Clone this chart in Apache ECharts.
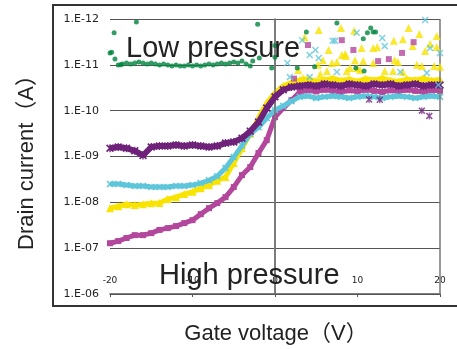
<!DOCTYPE html>
<html><head><meta charset="utf-8">
<script src="https://cdn.jsdelivr.net/npm/echarts@6/dist/echarts.min.js"></script>
<style>html,body{margin:0;padding:0;background:#fff}#c{width:457px;height:349px}</style>
</head><body><div id="c"></div>
<script>
const xTicks = [-20, -10, 0, 10, 20];
const xTickLabels = ['-20', '-10', '0', '10', '20'];
const yTickExp = [-12, -11, -10, -9, -8, -7, -6];
const yTickLabels = ['1.E-12', '1.E-11', '1.E-10', '1.E-09', '1.E-08', '1.E-07', '1.E-06'];

const gateVoltage = [-20,-19,-18,-17,-16,-15,-14,-13,-12,-11,-10,-9,-8,-7,-6,-5,-4,-3,-2,-1,0,1,2,3,4,5,6,7,8,9,10,11,12,13,14,15,16,17,18,19,20];

const purpleCurrent = [6.6e-10,6.2e-10,6.6e-10,7.5e-10,9.5e-10,6.2e-10,5.9e-10,5.9e-10,5.6e-10,5.9e-10,5.6e-10,5.9e-10,6.2e-10,5.9e-10,5.1e-10,4.8e-10,4.0e-10,2.8e-10,1.77e-10,8.8e-11,5.0e-11,3.5e-11,3.05e-11,2.9e-11,2.76e-11,2.9e-11,2.62e-11,2.76e-11,2.9e-11,2.62e-11,2.76e-11,2.9e-11,2.62e-11,2.76e-11,2.62e-11,2.9e-11,2.76e-11,2.62e-11,2.9e-11,2.76e-11,2.76e-11];

const cyanCurrent = [4.0e-9,4.0e-9,4.2e-9,4.4e-9,4.4e-9,4.6e-9,4.6e-9,4.6e-9,4.4e-9,4.4e-9,4.2e-9,3.8e-9,3.3e-9,2.7e-9,1.79e-9,1.03e-9,5.8e-10,3.2e-10,2.3e-10,1.45e-10,9.7e-11,7.9e-11,6.2e-11,5.0e-11,4.8e-11,5.3e-11,5.0e-11,4.8e-11,5.0e-11,5.3e-11,5.0e-11,4.8e-11,5.0e-11,5.3e-11,5.0e-11,4.8e-11,5.0e-11,5.3e-11,5.0e-11,4.8e-11,5.0e-11];

const yellowCurrent = [1.34e-8,1.21e-8,1.1e-8,1.15e-8,1.1e-8,1.05e-8,1.04e-8,8.5e-9,7.7e-9,6.6e-9,5.9e-9,4.9e-9,4.2e-9,3.4e-9,2.8e-9,1.39e-9,6.6e-10,3.2e-10,1.45e-10,6.8e-11,4.1e-11,2.9e-11,2.4e-11,2.15e-11,2.0e-11,2.3e-11,2.15e-11,1.95e-11,2.2e-11,2.05e-11,2.3e-11,2.0e-11,2.15e-11,1.95e-11,2.2e-11,2.3e-11,2.05e-11,2.15e-11,1.95e-11,2.2e-11,2.1e-11];

const magentaCurrent = [7.8e-8,7.0e-8,6.0e-8,5.2e-8,5.2e-8,4.7e-8,4.0e-8,3.65e-8,3.3e-8,2.84e-8,2.45e-8,1.81e-8,1.34e-8,1.04e-8,7.7e-9,4.65e-9,2.55e-9,1.7e-9,8.4e-10,4.4e-10,1.38e-10,8.8e-11,5.9e-11,3.9e-11,3.6e-11,3.8e-11,3.5e-11,3.7e-11,3.9e-11,3.6e-11,3.8e-11,3.5e-11,3.7e-11,3.9e-11,3.6e-11,3.8e-11,3.5e-11,3.7e-11,3.9e-11,3.6e-11,3.7e-11];

const greenVoltage = [-19,-18.5,-18,-17.5,-17,-16.5,-16,-15.5,-15,-14.5,-14,-13.5,-13,-12.5,-12,-11.5,-11,-10.5,-10,-9.5,-9,-8.5,-8,-7.5,-7,-6.5,-6,-5.5,-5,-4.5,-4,-3.5,-3];
const greenCurrent = [1.01e-11,9.6e-12,9.1e-12,9.6e-12,9.1e-12,8.7e-12,9.1e-12,9.6e-12,9.1e-12,9.6e-12,1.01e-11,9.6e-12,1.01e-11,1.06e-11,1.01e-11,1.06e-11,1.06e-11,1.01e-11,1.06e-11,1.01e-11,1.06e-11,1.01e-11,9.6e-12,1.01e-11,9.6e-12,9.1e-12,9.6e-12,9.1e-12,8.7e-12,9.1e-12,8.3e-12,9.6e-12,1.06e-11];

const greenScatter = [[-20,5.5e-12],[-19.8,5.3e-12],[-19.5,2.0e-12],[-19.4,7.5e-12],[-18.7,1.0e-11],[-16.8,1.16e-12],[-2.1,1.3e-12],[-2.7,8.3e-12],[-1.9,7.1e-12],[-0.4,1.17e-11],[0.0,3.8e-12],[0.0,6.8e-12],[3.8,1.92e-12],[7.5,1.22e-12],[11.6,1.57e-12],[11.9,1.92e-12],[12.2,1.92e-12],[11.2,2.0e-12],[10.7,2.7e-12],[2.7,1.17e-11],[4.8,1.1e-11],[9.8,1.17e-11],[10.8,1.37e-11]];

const yellowScatter = [[5.3,1.74e-12],[8.0,1.57e-12],[9.6,1.8e-12],[3.6,2.5e-12],[6.5,4.75e-12],[8.1,6.1e-12],[8.6,6.4e-12],[5.8,7.9e-12],[6.9,9.1e-12],[5.2,1.0e-11],[9.1,1.17e-11],[9.9,1.17e-11],[2.8,1.3e-11],[5.5,1.59e-11],[3.4,1.94e-11],[16.2,1.57e-12],[17.5,2.13e-12],[19.6,2.35e-12],[15.5,2.75e-12],[14.4,3.0e-12],[18.8,3.5e-12],[19.6,4.1e-12],[16.7,3.9e-12],[11.9,4.3e-12],[10.5,4.3e-12],[12.4,4.1e-12],[18.2,5.0e-12],[8.5,5.8e-12],[9.7,7.9e-12],[7.5,8.7e-12],[10.7,8.3e-12],[11.9,9.1e-12],[14.5,7.9e-12],[14.9,8.7e-12],[17.2,1.0e-11],[17.8,1.06e-11],[19.3,1.06e-11],[20,1.1e-11],[6.3,1.37e-11],[8.7,1.37e-11],[10.3,1.3e-11],[13.3,1.37e-11],[14.3,1.37e-11],[15.5,1.43e-11]];

const magentaScatter = [[4.0,3.7e-12],[8.1,2.9e-12],[9.5,4.75e-12],[15.4,5.5e-12],[16.8,3.2e-12],[13.8,7.5e-12],[12.5,8.3e-12],[2.3,2.0e-11]];

const cyanScatter = [[3.3,2.9e-12],[4.2,6.1e-12],[5.3,7.1e-12],[1.5,9.1e-12],[1.8,1.85e-11],[7.3,3.0e-12],[4.9,4.75e-12],[9.9,2.0e-12],[13.0,2.6e-12],[13.3,3.9e-12],[18.2,1.05e-12],[18.8,4.3e-12],[20,5.5e-12],[7.5,1.43e-11],[15.2,1.43e-11],[18.4,1.5e-11],[19.8,2.76e-11],[4.2,1.85e-11],[7.0,3.0e-12]];

const purpleScatter = [[11.4,5.7e-11],[12.7,5.8e-11],[17.8,1.0e-10],[18.7,1.3e-10]];

const C = {purple:'#6f2279', cyan:'#5ec6da', yellow:'#f8e400', magenta:'#b3479b', green:'#00843f'};
const xPath = 'path://M0,1.5L1.5,0L5,3.5L8.5,0L10,1.5L6.5,5L10,8.5L8.5,10L5,6.5L1.5,10L0,8.5L3.5,5Z';
const starPath = 'path://M0,1.5L1.5,0L5,3.5L8.5,0L10,1.5L6.5,5L10,8.5L8.5,10L5,6.5L1.5,10L0,8.5L3.5,5ZM4.2,0L5.8,0L5.8,10L4.2,10Z';

const pairs = (xs, ys) => xs.map((v, i) => [v, ys[i]]);
const LAT = '"Liberation Sans","Noto Sans CJK JP",sans-serif';

function band(data, color, symbol, size, width, z) {
  return {type:'line', data, symbol, symbolSize:size, showSymbol:true, showAllSymbol:true,
    lineStyle:{width, color}, itemStyle:{color}, z, animation:false, silent:true};
}
function dots(data, color, symbol, size, z) {
  return {type:'scatter', data, symbol, symbolSize:size, itemStyle:{color}, z, animation:false, silent:true};
}

const chart = echarts.init(document.getElementById('c'), null, {renderer:'canvas'});
const yel = band(pairs(gateVoltage, yellowCurrent), C.yellow, 'triangle', 8, 5, 2);
yel.markLine = {silent:true, symbol:'none', label:{show:false}, animation:false,
  lineStyle:{color:'#777', width:1.5, type:'solid'}, data:[{xAxis:0},{xAxis:20}]};
chart.setOption({
  animation:false,
  grid:{left:110, right:17, top:19, bottom:55, containLabel:false},
  xAxis:{type:'value', min:-20, max:20, interval:10,
    axisLine:{show:true, onZero:false, lineStyle:{color:'#555', width:1.5}},
    axisTick:{show:true, length:3, inside:false, lineStyle:{color:'#555'}},
    axisLabel:{inside:true, margin:9, fontSize:9, color:'#222', fontFamily:'DejaVu Sans',
      formatter:v => { const i = xTicks.indexOf(v); return i >= 0 ? xTickLabels[i] : ''; }},
    splitLine:{show:false}},
  yAxis:{type:'log', logBase:10, min:1e-12, max:1e-6, inverse:true,
    axisLine:{show:true, lineStyle:{color:'#666', width:1.5}},
    axisTick:{show:false},
    axisLabel:{fontSize:11, color:'#222', margin:11, fontFamily:'DejaVu Sans',
      formatter:v => { const e = Math.round(Math.log10(v)); const i = yTickExp.indexOf(e); return i >= 0 ? yTickLabels[i] : ''; }},
    splitLine:{show:true, lineStyle:{color:'#555', width:1.2}}},
  series:[
    yel,
    band(pairs(gateVoltage, magentaCurrent), C.magenta, 'rect', 6, 5, 3),
    band(pairs(gateVoltage, cyanCurrent), C.cyan, xPath, 7, 5, 4),
    band(pairs(gateVoltage, purpleCurrent), C.purple, starPath, 8, 6, 5),
    dots(yellowScatter, C.yellow, 'triangle', 8, 6),
    dots(magentaScatter, C.magenta, 'rect', 6, 6),
    dots(cyanScatter, C.cyan, xPath, 7, 6),
    dots(purpleScatter, C.purple, starPath, 7, 6),
    dots(pairs(greenVoltage, greenCurrent), C.green, 'circle', 5, 7),
    dots(greenScatter, C.green, 'circle', 5, 7)
  ],
  graphic:[
    {type:'rect', silent:true, z:100, shape:{x:53, y:5, width:420, height:301}, style:{fill:'none', stroke:'#333', lineWidth:2}},
    {type:'text', silent:true, z:100, x:126, y:49, style:{text:'Low pressure', font:'29px '+LAT, fill:'#222', align:'left', verticalAlign:'middle'}},
    {type:'text', silent:true, z:100, x:159, y:276, style:{text:'High pressure', font:'29px '+LAT, fill:'#222', align:'left', verticalAlign:'middle'}},
    {type:'text', silent:true, z:100, x:27, y:157, rotation:Math.PI/2, style:{text:'Drain current（A）', font:'22px '+LAT, fill:'#222', align:'center', verticalAlign:'middle'}},
    {type:'text', silent:true, z:100, x:276, y:334, style:{text:'Gate voltage（V）', font:'22px '+LAT, fill:'#222', align:'center', verticalAlign:'middle'}}
  ]
});
</script></body></html>
